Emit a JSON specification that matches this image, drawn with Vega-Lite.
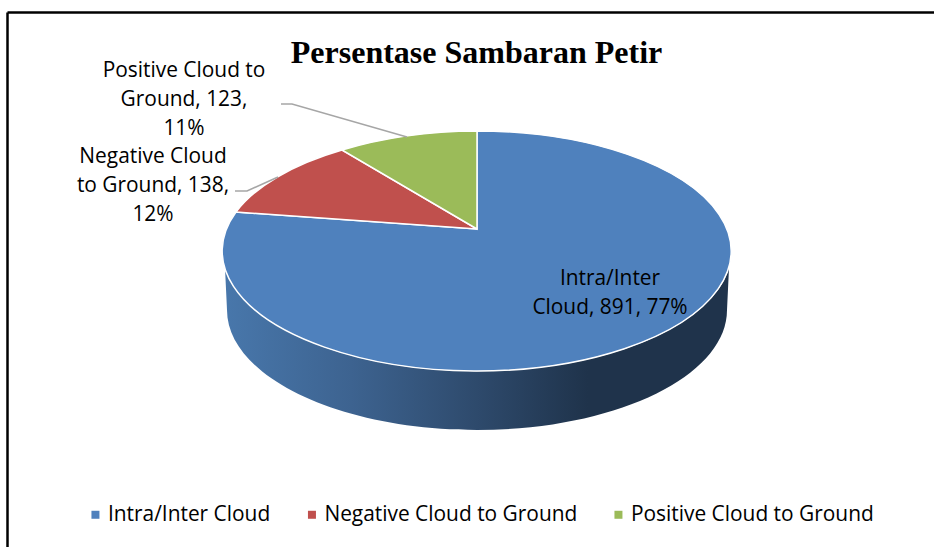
{
  "$schema": "https://vega.github.io/schema/vega-lite/v6.json",
  "width": 927,
  "height": 535,
  "autosize": "none",
  "padding": {"left": 7, "top": 12, "right": 0, "bottom": 0},
  "background": "white",
  "title": {"text": "Persentase Sambaran Petir", "anchor": "middle", "frame": "group", "font": "Liberation Serif", "fontSize": 32, "fontWeight": "bold", "color": "#000000", "dx": 6, "offset": -58},
  "config": {
    "view": {"stroke": null},
    "axis": {"title": null, "labels": false, "ticks": false, "grid": false, "domainColor": "#000000", "domainWidth": 2.5},
    "legend": {"orient": "none", "legendX": 78, "legendY": 492, "direction": "horizontal", "columns": 3, "columnPadding": 30.5, "symbolType": "square", "symbolSize": 64, "symbolStrokeWidth": 0, "labelFont": "Open Sans", "labelFontSize": 20.9, "labelColor": "#000000", "labelOffset": 2, "labelLimit": 400}
  },
  "data": {"values": [
    {"category": "Intra/Inter Cloud", "value": 891, "percent": 77, "label": "Intra/Inter|Cloud, 891, 77%"},
    {"category": "Negative Cloud to Ground", "value": 138, "percent": 12, "label": "Negative Cloud|to Ground, 138,|12%"},
    {"category": "Positive Cloud to Ground", "value": 123, "percent": 11, "label": "Positive Cloud to|Ground, 123,|11%"}
  ]},
  "layer": [
    {
      "transform": [{"filter": "datum.category === 'Intra/Inter Cloud'"}],
      "mark": {"type": "point", "filled": true, "size": 4, "opacity": 1, "strokeWidth": 0,
        "shape": "M-252,39 L-250,81 A250,120 0 0 0 250,81 L252,39 A254.5,120 0 0 1 -252,39 Z",
        "fill": {"gradient": "linear", "x1": 0, "x2": 1, "y1": 0, "y2": 0, "stops": [
          {"offset": 0, "color": "#4877ab"},
          {"offset": 0.25, "color": "#3d6390"},
          {"offset": 0.5, "color": "#2e4a6c"},
          {"offset": 0.72, "color": "#1f334b"},
          {"offset": 1, "color": "#1f334b"}
        ]}},
      "encoding": {
        "x": {"datum": 0, "type": "quantitative", "scale": {"domain": [-470, 457], "nice": false}, "axis": {"orient": "top"}},
        "y": {"datum": 0, "type": "quantitative", "scale": {"domain": [-318, 217], "nice": false}, "axis": {"orient": "left"}}
      }
    },
    {
      "transform": [{"filter": "datum.category === 'Intra/Inter Cloud'"}],
      "mark": {"type": "point", "filled": true, "size": 4, "opacity": 1, "stroke": "#ffffff", "strokeWidth": 1.5, "shape": "M0,0 L0,-98 A254.5,120 0 1 1 -241,-17 Z"},
      "encoding": {
        "x": {"datum": 0, "type": "quantitative"},
        "y": {"datum": 0, "type": "quantitative"},
        "color": {"field": "category", "type": "nominal", "title": null,
          "scale": {"domain": ["Intra/Inter Cloud", "Negative Cloud to Ground", "Positive Cloud to Ground"], "range": ["#4f81bd", "#c0504d", "#9bbb59"]}}
      }
    },
    {
      "transform": [{"filter": "datum.category === 'Negative Cloud to Ground'"}],
      "mark": {"type": "point", "filled": true, "size": 4, "opacity": 1, "stroke": "#ffffff", "strokeWidth": 1.5, "shape": "M0,0 L-241,-17 A254.5,120 0 0 1 -135,-79 Z"},
      "encoding": {
        "x": {"datum": 0, "type": "quantitative"},
        "y": {"datum": 0, "type": "quantitative"},
        "color": {"field": "category", "type": "nominal", "title": null}
      }
    },
    {
      "transform": [{"filter": "datum.category === 'Positive Cloud to Ground'"}],
      "mark": {"type": "point", "filled": true, "size": 4, "opacity": 1, "stroke": "#ffffff", "strokeWidth": 1.5, "shape": "M0,0 L-135,-79 A254.5,120 0 0 1 0,-98 Z"},
      "encoding": {
        "x": {"datum": 0, "type": "quantitative"},
        "y": {"datum": 0, "type": "quantitative"},
        "color": {"field": "category", "type": "nominal", "title": null}
      }
    },
    {
      "transform": [{"filter": "datum.category === 'Positive Cloud to Ground'"}],
      "mark": {"type": "point", "filled": false, "size": 4, "opacity": 1, "stroke": "#a6a6a6", "strokeWidth": 1.5, "shape": "M-196,-125 L-185,-125 L-70,-92"},
      "encoding": {"x": {"datum": 0, "type": "quantitative"}, "y": {"datum": 0, "type": "quantitative"}}
    },
    {
      "transform": [{"filter": "datum.category === 'Negative Cloud to Ground'"}],
      "mark": {"type": "point", "filled": false, "size": 4, "opacity": 1, "stroke": "#a6a6a6", "strokeWidth": 1.5, "shape": "M-242,-38 L-230,-38 L-199,-52"},
      "encoding": {"x": {"datum": 0, "type": "quantitative"}, "y": {"datum": 0, "type": "quantitative"}}
    },
    {
      "transform": [{"filter": "datum.category === 'Positive Cloud to Ground'"}],
      "mark": {"type": "text", "font": "Open Sans", "fontSize": 20.9, "lineBreak": "|", "lineHeight": 29, "align": "center", "baseline": "middle", "color": "#000000"},
      "encoding": {"x": {"datum": -293, "type": "quantitative"}, "y": {"datum": 158, "type": "quantitative"}, "text": {"field": "label", "type": "nominal"}}
    },
    {
      "transform": [{"filter": "datum.category === 'Negative Cloud to Ground'"}],
      "mark": {"type": "text", "font": "Open Sans", "fontSize": 20.9, "lineBreak": "|", "lineHeight": 29, "align": "center", "baseline": "middle", "color": "#000000"},
      "encoding": {"x": {"datum": -324, "type": "quantitative"}, "y": {"datum": 72, "type": "quantitative"}, "text": {"field": "label", "type": "nominal"}}
    },
    {
      "transform": [{"filter": "datum.category === 'Intra/Inter Cloud'"}],
      "mark": {"type": "text", "font": "Open Sans", "fontSize": 20.9, "lineBreak": "|", "lineHeight": 29, "align": "center", "baseline": "middle", "color": "#000000"},
      "encoding": {"x": {"datum": 133, "type": "quantitative"}, "y": {"datum": -49.5, "type": "quantitative"}, "text": {"field": "label", "type": "nominal"}}
    }
  ]
}
